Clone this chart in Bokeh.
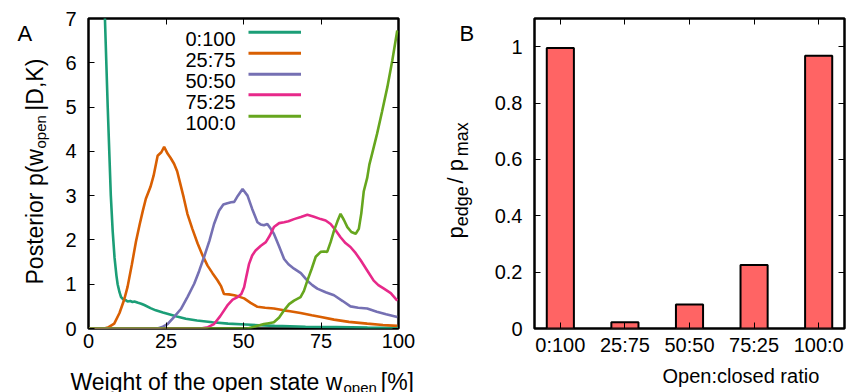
from math import pi
from bokeh.plotting import figure
from bokeh.models import Range1d, LinearAxis, FixedTicker, Label, Title
from bokeh.layouts import row
from bokeh.embed import file_html
from bokeh.resources import INLINE

# ---------------- data ----------------
ratios = ["0:100", "25:75", "50:50", "75:25", "100:0"]
colors = ["#1b9e77", "#d95f02", "#7570b3", "#e7298a", "#66a61e"]

w_0_100 = [3.5, 4.5, 5.3, 6.2, 7.2, 7.8, 8.4, 9.0, 9.4, 10.0, 10.5, 11.2, 12.0, 12.6, 13.5, 14.2, 14.8,
           16.0, 17.0, 18.0, 20.0, 21.7, 24.0, 26.0, 28.5, 31.4, 35.0, 40.0, 45.0, 50.7, 55.0, 60.0,
           65.0, 70.0, 80.0, 90.0, 100.0]
p_0_100 = [12.0, 9.0, 7.0, 5.0, 3.0, 2.2, 1.6, 1.2, 1.0, 0.82, 0.71, 0.66, 0.64, 0.61, 0.62, 0.60, 0.61,
           0.58, 0.56, 0.53, 0.46, 0.41, 0.36, 0.32, 0.27, 0.22, 0.18, 0.14, 0.11, 0.09, 0.075, 0.06,
           0.05, 0.04, 0.03, 0.02, 0.015]

w_25_75 = [0, 4, 5.1, 6.5, 8.3, 10, 11.5, 12.6, 14, 15.3, 16.5, 17.5, 18.5, 20, 21, 22.3, 23.5, 24.4,
           25.5, 26.5, 27.6, 28.6, 29.5, 30.7, 31.9, 33.5, 35.2, 36.8, 38.4, 40, 41.6, 42.8, 43.7,
           45.3, 47, 48.5, 50.2, 52.3, 54.5, 57, 59.8, 63, 65, 68.4, 72, 75, 79.2, 84, 89.9, 95, 99.6]
p_25_75 = [0, 0, 0.0, 0.03, 0.11, 0.35, 0.65, 0.94, 1.45, 1.96, 2.35, 2.65, 2.93, 3.2, 3.45, 3.9, 3.98,
           4.1, 3.95, 3.85, 3.72, 3.55, 3.3, 2.96, 2.59, 2.25, 1.92, 1.65, 1.42, 1.25, 1.09, 0.95, 0.78,
           0.77, 0.75, 0.72, 0.68, 0.58, 0.49, 0.47, 0.45, 0.41, 0.39, 0.35, 0.30, 0.26, 0.20, 0.15,
           0.11, 0.08, 0.06]

w_50_50 = [0, 20, 22.3, 24, 25.5, 27.5, 29.8, 32, 34.1, 35.7, 37.3, 39, 40.5, 42.1, 43.5, 44.8, 46, 47,
           48.2, 49.7, 51.3, 52.8, 54.5, 55.5, 56.6, 57.7, 58.8, 59.8, 61.5, 63.1, 64.5, 66.3, 68.5,
           70.6, 72.2, 73.8, 76.5, 79.2, 82, 84.5, 87, 89.9, 93, 96, 99.6]
p_50_50 = [0, 0, 0.0, 0.04, 0.1, 0.25, 0.44, 0.72, 1.01, 1.3, 1.62, 1.98, 2.36, 2.66, 2.8, 2.83, 2.85,
           2.86, 3.0, 3.15, 3.0, 2.7, 2.4, 2.35, 2.33, 2.36, 2.25, 2.14, 1.85, 1.57, 1.45, 1.35, 1.25,
           1.08, 0.98, 0.90, 0.82, 0.75, 0.62, 0.50, 0.47, 0.45, 0.38, 0.32, 0.26]

w_75_25 = [0, 34, 36.2, 38.5, 40.5, 42.5, 44.8, 46.5, 48.1, 49.3, 50.2, 51, 51.8, 52.8, 53.9, 55.6,
           57.2, 58.5, 59.8, 61.5, 63.1, 64.5, 66.3, 68.5, 70.6, 72.5, 74.9, 76.5, 78.1, 79.7, 81.3,
           82.9, 84.5, 86.2, 87.8, 90, 92, 93.5, 95.3, 97.5, 99.6]
p_75_25 = [0, 0, 0.0, 0.03, 0.1, 0.28, 0.52, 0.65, 0.71, 0.78, 0.93, 1.2, 1.46, 1.65, 1.76, 1.87, 1.95,
           2.1, 2.29, 2.38, 2.4, 2.42, 2.47, 2.52, 2.57, 2.53, 2.47, 2.44, 2.36, 2.22, 2.06, 1.93, 1.84,
           1.7, 1.54, 1.3, 1.08, 0.98, 0.9, 0.8, 0.63]

w_100_0 = [0, 49, 51.3, 54, 56.6, 58.2, 59.8, 61.5, 63.1, 64.7, 66.3, 68.4, 69.5, 70.6, 72, 73.3, 74.9,
           76, 77, 78.1, 79.2, 80.3, 81.3, 82.4, 83.5, 84.8, 86.2, 87.2, 88.0, 88.8, 89.9, 90.6, 91.5,
           93.1, 94.7, 96.4, 98, 99.6]
p_100_0 = [0, 0, 0.0, 0.05, 0.1, 0.12, 0.14, 0.25, 0.41, 0.55, 0.63, 0.71, 0.85, 1.08, 1.35, 1.62, 1.73,
           1.74, 1.73, 1.95, 2.21, 2.42, 2.59, 2.45, 2.29, 2.18, 2.14, 2.25, 2.6, 3.1, 3.4, 3.7, 3.95,
           4.4, 4.9, 5.45, 6.05, 6.73]

curves_w = [w_0_100, w_25_75, w_50_50, w_75_25, w_100_0]
curves_p = [p_0_100, p_25_75, p_50_50, p_75_25, p_100_0]

edge_ratio = [0.995, 0.022, 0.085, 0.225, 0.968]

xticks_A = [0, 25, 50, 75, 100]
yticks_A = [0, 1, 2, 3, 4, 5, 6, 7]
yticks_B = [0, 0.2, 0.4, 0.6, 0.8, 1.0]
ytick_labels_B = ["0", "0.2", "0.4", "0.6", "0.8", "1"]

FONT = "Liberation Sans"
NB = "\u00a0"  # non-breaking space (kept in SVG text)

# ---------------- helpers ----------------
def tick_style(ax):
    ax.axis_line_color = None
    ax.major_tick_in = 6
    ax.major_tick_out = 0
    ax.minor_tick_line_color = None
    ax.major_tick_line_color = "black"
    ax.major_tick_line_width = 1


def style(p):
    p.outline_line_color = "black"
    p.outline_line_width = 2.5
    p.grid.visible = False
    p.background_fill_color = "white"
    p.border_fill_color = "white"
    for ax in p.axis:
        tick_style(ax)
        ax.major_label_text_font = FONT
        ax.major_label_text_font_size = "20px"
        ax.major_label_text_color = "black"


def mirror(p, xticks, yticks):
    top = LinearAxis(ticker=FixedTicker(ticks=xticks))
    right = LinearAxis(ticker=FixedTicker(ticks=yticks))
    for ax in (top, right):
        tick_style(ax)
        ax.major_label_text_font_size = "0px"
        ax.major_label_text_alpha = 0
        ax.major_label_standoff = 0
    p.add_layout(top, "above")
    p.add_layout(right, "right")


def lab(p, x, y, text, size, angle=0.0, align="left", side="center"):
    p.add_layout(Label(x=x, y=y, text=text, text_font=FONT, text_font_size=size,
                       text_color="black", angle=angle, text_align=align,
                       text_baseline="alphabetic"), side)


# ---------------- panel A ----------------
pA = figure(output_backend="svg", toolbar_location=None, frame_width=310, frame_height=310,
            min_border_left=88, min_border_right=30, min_border_top=18, min_border_bottom=64,
            x_range=Range1d(0, 100), y_range=Range1d(0, 7))
pA.xaxis.ticker = FixedTicker(ticks=xticks_A)
pA.yaxis.ticker = FixedTicker(ticks=yticks_A)
style(pA)
mirror(pA, xticks_A, yticks_A)
pA.xaxis[0].major_label_standoff = 10
pA.yaxis[0].major_label_standoff = 12

for w, pv, c in zip(curves_w, curves_p, colors):
    pA.line(w, pv, line_color=c, line_width=2.6)


def A(px, py):  # image pixel -> panel A data coords
    return (px - 88) / 310 * 100, (328 - py) / 310 * 7

# legend
row_y = [31.7, 52.7, 73.7, 94.3, 115.7]
for name, c, cy in zip(ratios, colors, row_y):
    tx, ty = A(235, cy + 7)
    lab(pA, tx, ty, name, "20px", align="right")
    x0, y0 = A(248, cy)
    x1, _ = A(300.5, cy)
    pA.segment(x0=[x0], y0=[y0], x1=[x1], y1=[y0], line_color=c, line_width=3)

# panel letter + y title (left side panel)
lab(pA, *A(17, 33), "A", "22px", side="left")
lab(pA, *A(34, 284), "Posterior p(w" + NB * 6 + "|D,K)", "23px", angle=pi / 2, side="left")
lab(pA, *A(39.5, 148), "open", "15px", angle=pi / 2, side="left")
# x title (below / above side panels)
lab(pA, *A(70, 381), "Weight of the open state w" + NB * 6 + "[%]", "23px", side="below")
lab(pA, *A(343, 387), "open", "15px", side="above")

# ---------------- panel B ----------------
pB = figure(output_backend="svg", toolbar_location=None, frame_width=310, frame_height=310,
            min_border_left=106, min_border_right=2, min_border_top=18, min_border_bottom=64,
            x_range=Range1d(-0.4, 4.4), y_range=Range1d(0, 1.1))
xpos = list(range(len(ratios)))
pB.xaxis.ticker = FixedTicker(ticks=xpos)
pB.xaxis.major_label_overrides = {i: r for i, r in zip(xpos, ratios)}
pB.yaxis.ticker = FixedTicker(ticks=yticks_B)
pB.yaxis.major_label_overrides = {v: s for v, s in zip(yticks_B, ytick_labels_B)}
style(pB)
mirror(pB, xpos, yticks_B)
pB.xaxis[0].major_label_standoff = 10
pB.yaxis[0].major_label_standoff = 12

pB.vbar(x=xpos, top=edge_ratio, width=0.42, fill_color="#ff6464", line_color="black", line_width=2)


def B(px, py):  # image pixel -> panel B data coords
    return -0.4 + (px - 534) / 310 * 4.8, (328 - py) / 310 * 1.1

lab(pB, *B(459, 33), "B", "22px", side="left")
lab(pB, *B(455, 238), "p" + NB * 7 + "/" + NB + "p", "22px", angle=pi / 2, side="left")
lab(pB, *B(461, 225.8), "edge" + NB * 6 + "max", "18px", angle=pi / 2, side="left")
pB.add_layout(Title(text="Open:closed ratio", text_font=FONT, text_font_size="20px",
                    text_font_style="normal", text_color="black", align="left",
                    offset=128, standoff=8),
              "below")

layout = row(pA, pB)
open("out.html", "w").write(file_html(layout, INLINE))
